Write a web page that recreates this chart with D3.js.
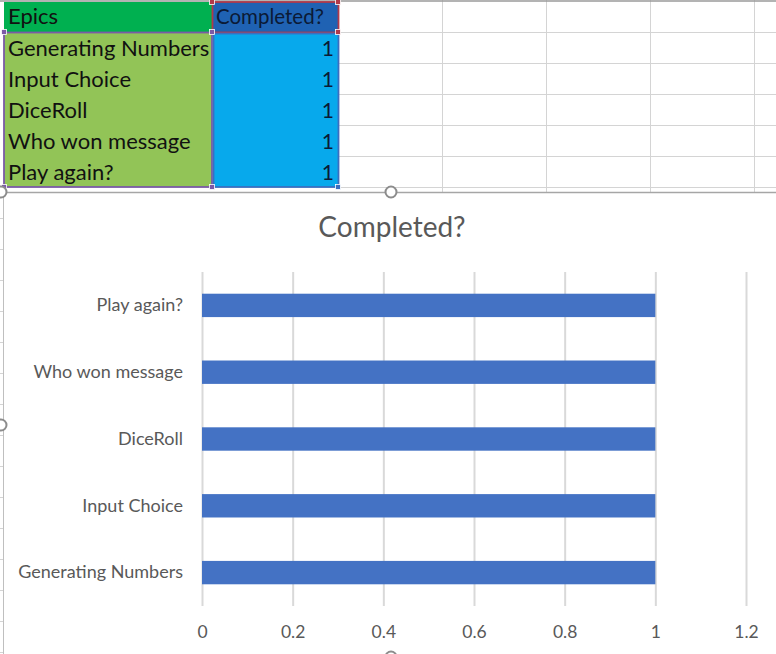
<!DOCTYPE html>
<html>
<head>
<meta charset="utf-8">
<script src="https://cdn.jsdelivr.net/npm/d3@7"></script>
<style>
  html, body { margin: 0; padding: 0; background: #fff; }
  svg { display: block; }
</style>
</head>
<body>
<svg id="chart" width="776" height="654"></svg>
<script>
// ---- data ----
const headerLabels = ["Epics", "Completed?"];
const categories = ["Generating Numbers", "Input Choice", "DiceRoll", "Who won message", "Play again?"];
const completed = [1, 1, 1, 1, 1];
const xTicks = [0, 0.2, 0.4, 0.6, 0.8, 1, 1.2];
const chartTitle = "Completed?";

const svg = d3.select("#chart");
const FONT = "Lato, 'Open Sans', sans-serif";

const rowH = 31;

const grid = svg.append("g").attr("class", "sheet-grid");
[32, 63, 94, 125, 156, 187].forEach(y => {
  grid.append("line").attr("x1", 339).attr("x2", 776).attr("y1", y + 0.5).attr("y2", y + 0.5)
    .attr("stroke", "#d4d4d4").attr("stroke-width", 1);
});
[442, 546, 650, 754].forEach(x => {
  grid.append("line").attr("x1", x + 0.5).attr("x2", x + 0.5).attr("y1", 0).attr("y2", 192)
    .attr("stroke", "#d4d4d4").attr("stroke-width", 1);
});
grid.append("line").attr("x1", 0).attr("x2", 776).attr("y1", 1).attr("y2", 1)
  .attr("stroke", "#9a9a9a").attr("stroke-width", 1.5);

// table cells
const table = svg.append("g").attr("class", "table");
table.append("rect").attr("x", 4).attr("y", 2).attr("width", 208).attr("height", 30).attr("fill", "#00b050");
table.append("rect").attr("x", 213).attr("y", 2).attr("width", 126).attr("height", 30).attr("fill", "#1f62b3");
table.append("rect").attr("x", 4).attr("y", 33).attr("width", 208).attr("height", 154).attr("fill", "#92c457");
table.append("rect").attr("x", 213).attr("y", 33).attr("width", 126).attr("height", 154).attr("fill", "#07a9ec");

table.append("text").attr("x", 8).attr("y", 24).text(headerLabels[0])
  .attr("font-family", FONT).attr("font-size", 22).attr("fill", "#111");
table.append("text").attr("x", 216).attr("y", 24).text(headerLabels[1])
  .attr("font-family", FONT).attr("font-size", 20.5).attr("fill", "#0b1a36");

svg.append("clipPath").attr("id", "colA").append("rect").attr("x", 4).attr("y", 0).attr("width", 208).attr("height", 200);

categories.forEach((c, i) => {
  const y = 32 + i * rowH + 24;
  table.append("text").attr("x", 8).attr("y", y).text(c)
    .attr("clip-path", "url(#colA)")
    .attr("font-family", FONT).attr("font-size", 22).attr("fill", "#111");
  table.append("text").attr("x", 334).attr("y", y).text(completed[i])
    .attr("text-anchor", "end")
    .attr("font-family", FONT).attr("font-size", 21).attr("fill", "#0b1a36");
});

// selection range borders
const sel = svg.append("g").attr("class", "selection");
sel.append("rect").attr("x", 4).attr("y", 32.5).attr("width", 208).attr("height", 154.5)
  .attr("fill", "none").attr("stroke", "#7b5aa6").attr("stroke-width", 1.8);
sel.append("rect").attr("x", 212.5).attr("y", 2).attr("width", 126).attr("height", 30.5)
  .attr("fill", "none").attr("stroke", "#b03a4a").attr("stroke-width", 1.8);
sel.append("rect").attr("x", 213.5).attr("y", 33.5).attr("width", 125).attr("height", 153.5)
  .attr("fill", "none").attr("stroke", "#3a6fc0").attr("stroke-width", 1.8);
const handles = [
  [4, 32, "#7b5aa6"], [212, 32, "#7b5aa6"], [212, 187, "#7b5aa6"], [4, 187, "#7b5aa6"],
  [212, 2, "#b03a4a"], [338, 2, "#b03a4a"], [338, 32, "#b03a4a"],
  [338, 187, "#3a6fc0"]
];
handles.forEach(([x, y, c]) => {
  sel.append("rect").attr("x", x - 2.5).attr("y", y - 2.5).attr("width", 5).attr("height", 5)
    .attr("fill", c).attr("stroke", "#fff").attr("stroke-width", 0.8);
});

const edge = svg.append("g");
d3.range(218, 654, rowH).forEach(y => {
  edge.append("line").attr("x1", 0).attr("x2", 3).attr("y1", y + 0.5).attr("y2", y + 0.5)
    .attr("stroke", "#d4d4d4");
});

// ---- chart area ----
const chartG = svg.append("g").attr("class", "chart-area");
chartG.append("rect").attr("x", 4).attr("y", 192).attr("width", 772).attr("height", 470).attr("fill", "#fff");
chartG.append("line").attr("x1", 0).attr("x2", 776).attr("y1", 192.5).attr("y2", 192.5)
  .attr("stroke", "#a6a6a6").attr("stroke-width", 1.5);
chartG.append("line").attr("x1", 3.5).attr("x2", 3.5).attr("y1", 192).attr("y2", 654)
  .attr("stroke", "#bfbfbf").attr("stroke-width", 1);

chartG.append("text").attr("x", 392).attr("y", 237).attr("text-anchor", "middle")
  .attr("font-family", FONT).attr("font-size", 28).attr("fill", "#595959").text(chartTitle);

const x = d3.scaleLinear().domain([0, 1.2]).range([202, 746]);
const y = d3.scaleBand().domain(categories.slice().reverse()).range([272, 606])
  .paddingInner(0.65).paddingOuter(0.325);

const xGrid = d3.axisBottom(x).tickValues(xTicks).tickSize(-(606 - 272)).tickFormat("");
const gGrid = chartG.append("g").attr("transform", "translate(0,606)").call(xGrid);
gGrid.select(".domain").remove();
gGrid.selectAll("line").attr("stroke", "#d9d9d9").attr("stroke-width", 2);

chartG.append("g").selectAll("rect").data(categories).join("rect")
  .attr("x", x(0))
  .attr("y", d => y(d))
  .attr("width", (d, i) => x(completed[i]) - x(0))
  .attr("height", y.bandwidth())
  .attr("fill", "#4472c4");

const xAxis = d3.axisBottom(x).tickValues(xTicks).tickSize(0).tickPadding(0)
  .tickFormat(d => d3.format("")(+d.toFixed(1)));
const gX = chartG.append("g").attr("transform", "translate(0,638)").call(xAxis);
gX.select(".domain").remove();
gX.selectAll("text").attr("font-family", FONT).attr("font-size", 17.5).attr("fill", "#595959")
  .attr("dy", 0).attr("y", 0);

const yAxis = d3.axisLeft(y).tickSize(0).tickPadding(0);
const gY = chartG.append("g").attr("transform", "translate(183,0)").call(yAxis);
gY.select(".domain").remove();
gY.selectAll("text").attr("font-family", FONT).attr("font-size", 18).attr("fill", "#595959");

const hg = svg.append("g");
[[1, 192], [391, 192], [1, 425], [391, 657]].forEach(([cx, cy]) => {
  hg.append("circle").attr("cx", cx).attr("cy", cy).attr("r", 5.5)
    .attr("fill", "#fff").attr("stroke", "#8c8c8c").attr("stroke-width", 2);
});
</script>
</body>
</html>
